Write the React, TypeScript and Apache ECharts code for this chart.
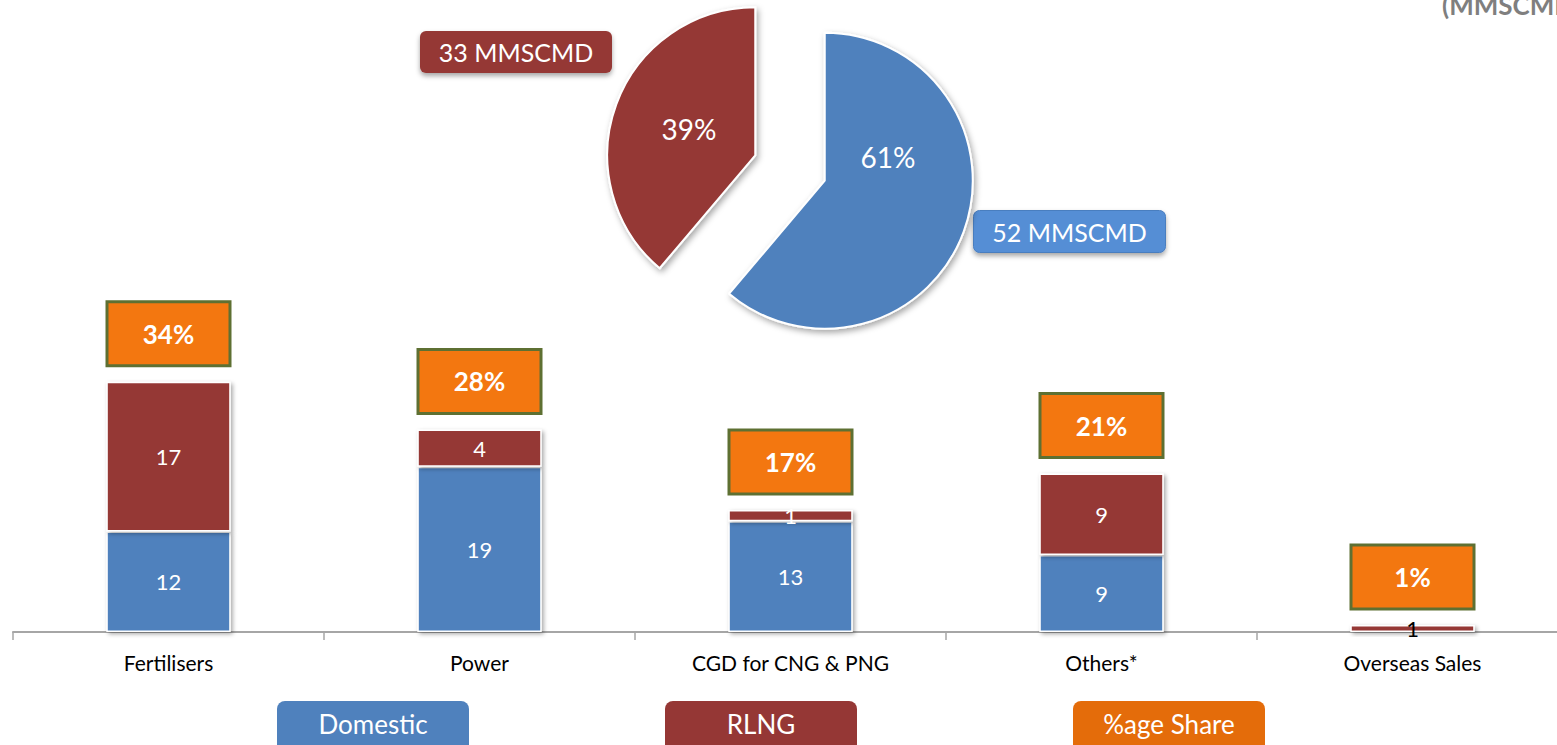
import React, { useEffect, useRef } from "react";
import * as echarts from "echarts";

const categories = ["Fertilisers", "Power", "CGD for CNG & PNG", "Others*", "Overseas Sales"];
const domesticValues = [11.6, 19.1, 12.8, 8.9, 0];
const rlngValues = [17.3, 4.3, 1.3, 9.4, 0.8];
const shareLabels = [34, 28, 17, 21, 1];
const pieNames = ["Domestic", "RLNG"];
const pieValues = [52, 33];
const unitLabel = "MMSCMD";
const legendItems = ["Domestic", "RLNG", "%age Share"];

const BLUE = "#4F81BD";
const RED = "#953735";
const FONT = "Lato, 'Open Sans', sans-serif";

export default function App() {
  const ref = useRef<HTMLDivElement>(null);
  useEffect(() => {
    if (!ref.current) return;
    const chart = echarts.init(ref.current, null, { renderer: "svg" });
    const totals = domesticValues.map((v, i) => v + rlngValues[i]);
    const barShadow = {
      borderColor: "#ffffff",
      borderWidth: 1.5,
      shadowColor: "rgba(0,0,0,0.35)",
      shadowBlur: 4,
      shadowOffsetX: 2,
      shadowOffsetY: 2,
    };
    const legendColors = [BLUE, RED, "#E46C0A"];
    const legendX = [277, 665, 1073];
    chart.setOption({
      animation: false,
      textStyle: { fontFamily: FONT },
      grid: { left: 13, top: 0, width: 1555, height: 632 },
      xAxis: {
        type: "category",
        data: categories,
        axisLine: { lineStyle: { color: "#a6a6a6", width: 2 } },
        axisTick: { show: true, length: 8, lineStyle: { color: "#a6a6a6", width: 1.5 } },
        axisLabel: { color: "#000", fontSize: 21, fontFamily: FONT, margin: 20 },
      },
      yAxis: { type: "value", min: 0, max: 73, show: false },
      series: [
        {
          type: "bar",
          name: "Domestic",
          stack: "a",
          barWidth: "40%",
          data: domesticValues,
          itemStyle: { color: BLUE, ...barShadow },
          label: {
            show: true,
            position: "inside",
            color: "#fff",
            fontSize: 22,
            fontFamily: FONT,
            formatter: (p: any) => (p.value > 0 ? String(Math.round(p.value)) : ""),
          },
        },
        {
          type: "bar",
          name: "RLNG",
          stack: "a",
          barWidth: "40%",
          data: rlngValues.map((v, i) =>
            domesticValues[i] === 0 ? { value: v, label: { color: "#000" } } : v
          ),
          itemStyle: { color: RED, ...barShadow },
          label: {
            show: true,
            position: "inside",
            color: "#fff",
            fontSize: 22,
            fontFamily: FONT,
            formatter: (p: any) => (p.value > 0 ? String(Math.round(p.value)) : ""),
          },
        },
        {
          type: "scatter",
          name: "%age Share",
          data: totals,
          symbolSize: 1,
          itemStyle: { color: "rgba(0,0,0,0)", opacity: 1 },
          z: 5,
          label: {
            show: true,
            position: "top",
            distance: 17,
            formatter: (p: any) => `${shareLabels[p.dataIndex]}%`,
            color: "#fff",
            fontSize: 26,
            fontWeight: "bold",
            fontFamily: FONT,
            backgroundColor: "#F37710",
            borderColor: "#5E7032",
            borderWidth: 3,
            width: 120,
            height: 61,
            lineHeight: 61,
            align: "center",
          },
        },
        {
          type: "pie",
          center: [790, 168],
          radius: 148,
          startAngle: 90,
          clockwise: true,
          selectedMode: "multiple",
          selectedOffset: 37,
          emphasis: { disabled: true },
          data: pieNames.map((n, i) => ({
            name: n,
            value: pieValues[i],
            selected: true,
            itemStyle: { color: i === 0 ? BLUE : RED },
          })),
          itemStyle: {
            borderColor: "#ffffff",
            borderWidth: 2,
            shadowColor: "rgba(0,0,0,0.35)",
            shadowBlur: 6,
            shadowOffsetX: 2,
            shadowOffsetY: 3,
          },
          label: {
            show: true,
            position: "inside",
            color: "#fff",
            fontSize: 28,
            fontFamily: FONT,
            formatter: (p: any) => `${Math.round(p.percent)}%`,
          },
          labelLayout: (p: any) => (p.dataIndex === 0 ? { dx: -9, dy: -50 } : { dx: 6, dy: 0 }),
          labelLine: { show: false },
        },
      ],
      graphic: [
        {
          type: "text",
          left: 1442,
          top: -8,
          style: {
            text: `(${unitLabel})`,
            fill: "#7f7f7f",
            font: `bold 26px ${FONT}`,
          },
        },
        {
          type: "group",
          left: 420,
          top: 31,
          children: [
            {
              type: "rect",
              shape: { x: 0, y: 0, width: 192, height: 42, r: 6 },
              style: { fill: RED, shadowColor: "rgba(0,0,0,0.35)", shadowBlur: 5, shadowOffsetY: 3 },
            },
            {
              type: "text",
              x: 96,
              y: 21,
              style: {
                text: `${pieValues[1]} ${unitLabel}`,
                fill: "#fff",
                font: `25px ${FONT}`,
                align: "center",
                verticalAlign: "middle",
              },
            },
          ],
        },
        {
          type: "group",
          left: 973,
          top: 210,
          children: [
            {
              type: "rect",
              shape: { x: 0, y: 0, width: 192, height: 42, r: 6 },
              style: {
                fill: "#558ED5",
                stroke: "#4a7ebf",
                lineWidth: 1,
                shadowColor: "rgba(0,0,0,0.35)",
                shadowBlur: 5,
                shadowOffsetY: 3,
              },
            },
            {
              type: "text",
              x: 96,
              y: 21,
              style: {
                text: `${pieValues[0]} ${unitLabel}`,
                fill: "#fff",
                font: `25px ${FONT}`,
                align: "center",
                verticalAlign: "middle",
              },
            },
          ],
        },
        ...legendItems.map((name, i) => ({
          type: "group",
          left: legendX[i],
          top: 701,
          children: [
            {
              type: "rect",
              shape: { x: 0, y: 0, width: 192, height: 60, r: 8 },
              style: { fill: legendColors[i] },
            },
            {
              type: "text",
              x: 96,
              y: 23,
              style: {
                text: name,
                fill: "#fff",
                font: `26px ${FONT}`,
                align: "center",
                verticalAlign: "middle",
              },
            },
          ],
        })),
      ],
    });
    return () => chart.dispose();
  }, []);
  return (
    <div
      style={{
        position: "absolute",
        left: 0,
        top: 0,
        width: 1557,
        height: 745,
        overflow: "hidden",
        background: "#fff",
      }}
    >
      <div ref={ref} style={{ width: 1590, height: 745 }} />
    </div>
  );
}
